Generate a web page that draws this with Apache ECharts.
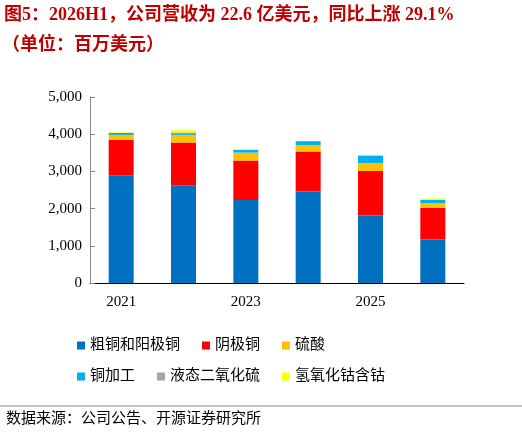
<!DOCTYPE html>
<html><head><meta charset="utf-8">
<script src="https://cdn.jsdelivr.net/npm/echarts@6/dist/echarts.min.js"></script>
<style>body{margin:0}#c{width:522px;height:438px}</style></head>
<body><div id="c"></div>
<script>
const years = ['2021', '2022', '2023', '2024', '2025', '2026H1'];
const blister = [2894, 2625, 2229, 2463, 1816, 1169];
const cathode = [953, 1150, 1061, 1070, 1195, 853];
const acid = [135, 207, 216, 170, 216, 126];
const processing = [54, 45, 72, 108, 198, 90];
const so2 = [0, 20, 0, 0, 0, 0];
const cobalt = [18, 61, 26, 0, 0, 36];

const chart = echarts.init(document.getElementById('c'));
const font = '"Times New Roman","Liberation Serif","Noto Sans CJK SC",serif';
const mk = (name, data, color) => ({
  name: name, type: 'bar', stack: 'a', data: data, barWidth: 25,
  itemStyle: { color: color }
});
const legendBase = {
  itemWidth: 8, itemHeight: 8, itemGap: 22, icon: 'rect',
  textStyle: { fontSize: 15, color: '#000', fontFamily: font }
};
chart.setOption({
  animation: false,
  textStyle: { fontFamily: font },
  graphic: [
    { type: 'text', left: 4, top: 6, style: { text: '图5：2026H1，公司营收为 22.6 亿美元，同比上涨 29.1%', fontSize: 18, fontWeight: 'bold', fill: '#c00000', fontFamily: font } },
    { type: 'text', left: 2, top: 36, style: { text: '（单位：百万美元）', fontSize: 18, fontWeight: 'bold', fill: '#c00000', fontFamily: font } },
    { type: 'line', shape: { x1: 0, y1: 406, x2: 522, y2: 406 }, style: { stroke: '#888', lineWidth: 1 } },
    { type: 'text', left: 6, top: 412, style: { text: '数据来源：公司公告、开源证券研究所', fontSize: 15, fill: '#000', fontFamily: font } }
  ],
  grid: { left: 90, right: 58, top: 97, bottom: 155 },
  legend: [
    Object.assign({ top: 333, left: 72, data: ['粗铜和阳极铜', '阴极铜', '硫酸'] }, legendBase),
    Object.assign({ top: 364, left: 72, data: ['铜加工', '液态二氧化硫', '氢氧化钴含钴'] }, legendBase)
  ],
  xAxis: {
    type: 'category', data: years,
    axisLine: { lineStyle: { color: '#000' } },
    axisTick: { lineStyle: { color: '#000' } },
    axisLabel: { color: '#000', fontSize: 15, margin: 12 }
  },
  yAxis: {
    type: 'value', min: 0, max: 5000, interval: 1000,
    splitLine: { show: false },
    axisLine: { show: true, lineStyle: { color: '#888' } },
    axisTick: { show: true, inside: true, lineStyle: { color: '#888' } },
    axisLabel: { color: '#000', fontSize: 15, formatter: v => v.toLocaleString('en-US') }
  },
  series: [
    mk('粗铜和阳极铜', blister, '#0070c0'),
    mk('阴极铜', cathode, '#ff0000'),
    mk('硫酸', acid, '#ffc000'),
    mk('铜加工', processing, '#00b0f0'),
    mk('液态二氧化硫', so2, '#a5a5a5'),
    mk('氢氧化钴含钴', cobalt, '#ffff00')
  ]
});
</script></body></html>
